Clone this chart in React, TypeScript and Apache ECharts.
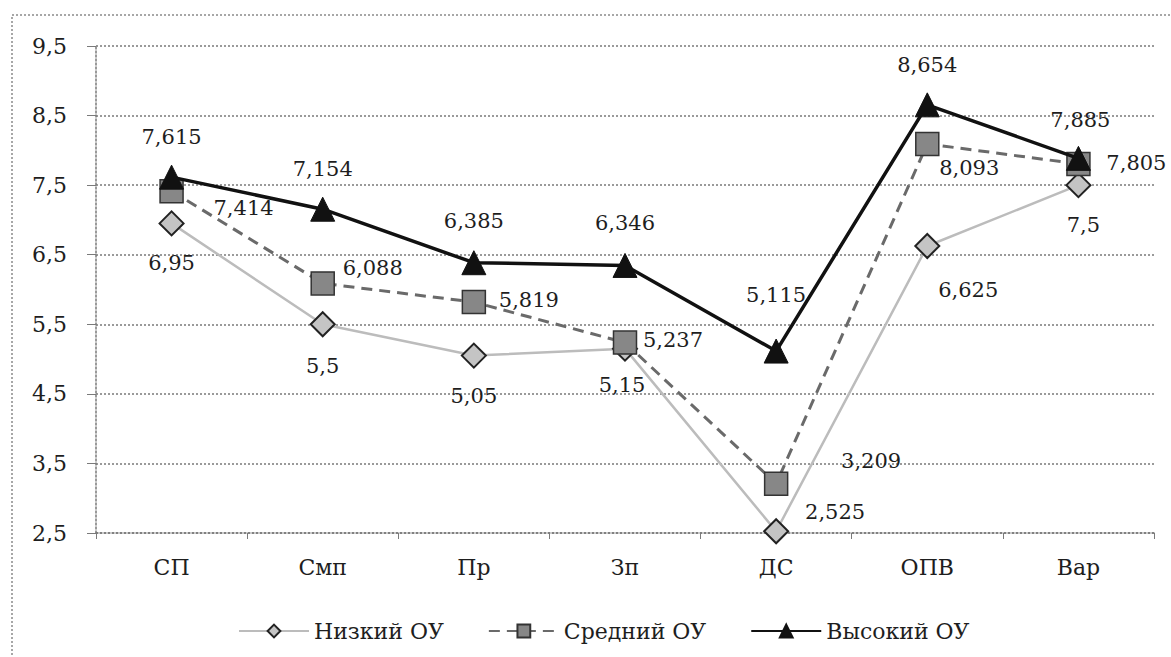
import React, { useEffect, useRef } from "react";
import * as echarts from "echarts";

// Categories and the three series of scores
const categories = ["СП", "Смп", "Пр", "Зп", "ДС", "ОПВ", "Вар"];
const lowValues = [6.95, 5.5, 5.05, 5.15, 2.525, 6.625, 7.5];
const midValues = [7.414, 6.088, 5.819, 5.237, 3.209, 8.093, 7.805];
const highValues = [7.615, 7.154, 6.385, 6.346, 5.115, 8.654, 7.885];
const seriesNames = ["Низкий ОУ", "Средний ОУ", "Высокий ОУ"];

// Per-point label offsets (px) from the marker centre
const lowLabelOffsets: [number, number][] = [
  [0, 40], [0, 42], [0, 40], [-3, 36], [59, -19], [41, 44], [5, 40],
];
const midLabelOffsets: [number, number][] = [
  [72, 17], [50, -15], [55, -2], [48, -3], [95, -23], [42, 24], [58, -1],
];
const highLabelOffsets: [number, number][] = [
  [0, -40], [0, -40], [0, -42], [0, -42], [0, -56], [0, -40], [2, -38],
];

const FONT = "DejaVu Serif";
const TEXT = "#1e1e1e";
const FS_LABEL = 21;
const FS_AXIS = 22;

const fmt = (v: number) => String(v).replace(".", ",");

function withLabels(values: number[], offsets: [number, number][]) {
  return values.map((v, i) => ({ value: v, label: { offset: offsets[i] } }));
}

const baseLabel = {
  show: true,
  position: "inside" as const,
  color: TEXT,
  fontFamily: FONT,
  fontSize: FS_LABEL,
  formatter: (p: any) => fmt(p.value),
};

export default function App() {
  const ref = useRef<HTMLDivElement>(null);

  useEffect(() => {
    if (!ref.current) return;
    const chart = echarts.init(ref.current, undefined, { renderer: "svg" });
    chart.setOption({
      animation: false,
      backgroundColor: "#fff",
      textStyle: { fontFamily: FONT, color: TEXT },
      graphic: [
        {
          type: "rect",
          shape: { x: 12, y: 15, width: 1200, height: 700 },
          style: { fill: "none", stroke: "#8a8a8a", lineWidth: 1.5, lineDash: [2, 2] },
          silent: true,
        },
      ],
      grid: { left: 96, right: 17, top: 46, bottom: 124 },
      legend: {
        left: 233,
        top: 615,
        itemWidth: 70,
        itemHeight: 16,
        itemGap: 44,
        textStyle: { fontFamily: FONT, fontSize: FS_AXIS, color: TEXT },
        data: seriesNames,
      },
      xAxis: {
        type: "category",
        data: categories,
        boundaryGap: true,
        axisLine: { lineStyle: { color: "#7a7a7a", width: 1.5, type: [2, 2] } },
        axisTick: { show: true, length: 6, lineStyle: { color: "#7a7a7a" } },
        axisLabel: { fontFamily: FONT, fontSize: FS_AXIS, color: TEXT, margin: 23 },
        splitLine: { show: false },
      },
      yAxis: {
        type: "value",
        min: 2.5,
        max: 9.5,
        interval: 1,
        axisLine: { show: true, lineStyle: { color: "#7a7a7a", width: 1.5, type: [2, 2] } },
        axisTick: { show: true, length: 9, lineStyle: { color: "#7a7a7a" } },
        axisLabel: {
          fontFamily: FONT,
          fontSize: FS_AXIS,
          color: TEXT,
          margin: 29,
          formatter: (v: number) => fmt(v),
        },
        splitLine: { show: true, lineStyle: { color: "#7a7a7a", width: 1.5, type: [2, 2] } },
      },
      series: [
        {
          name: seriesNames[0],
          type: "line",
          data: withLabels(lowValues, lowLabelOffsets),
          symbol: "diamond",
          symbolSize: 24,
          lineStyle: { color: "#bcbcbc", width: 2.5 },
          itemStyle: { color: "#c4c4c4", borderColor: "#222", borderWidth: 2 },
          label: baseLabel,
          z: 2,
        },
        {
          name: seriesNames[1],
          type: "line",
          data: withLabels(midValues, midLabelOffsets),
          symbol: "rect",
          symbolSize: 23,
          lineStyle: { color: "#6a6a6a", width: 3, type: [11, 7] },
          itemStyle: { color: "#878787", borderColor: "#333", borderWidth: 1.5 },
          label: baseLabel,
          z: 3,
        },
        {
          name: seriesNames[2],
          type: "line",
          data: withLabels(highValues, highLabelOffsets),
          symbol: "triangle",
          symbolSize: 24,
          lineStyle: { color: "#111", width: 3.5 },
          itemStyle: { color: "#111", borderColor: "#111", borderWidth: 1 },
          label: baseLabel,
          z: 4,
        },
      ],
    });
    return () => chart.dispose();
  }, []);

  return (
    <div
      ref={ref}
      style={{ position: "absolute", left: 0, top: 0, width: 1171, height: 657 }}
    />
  );
}
